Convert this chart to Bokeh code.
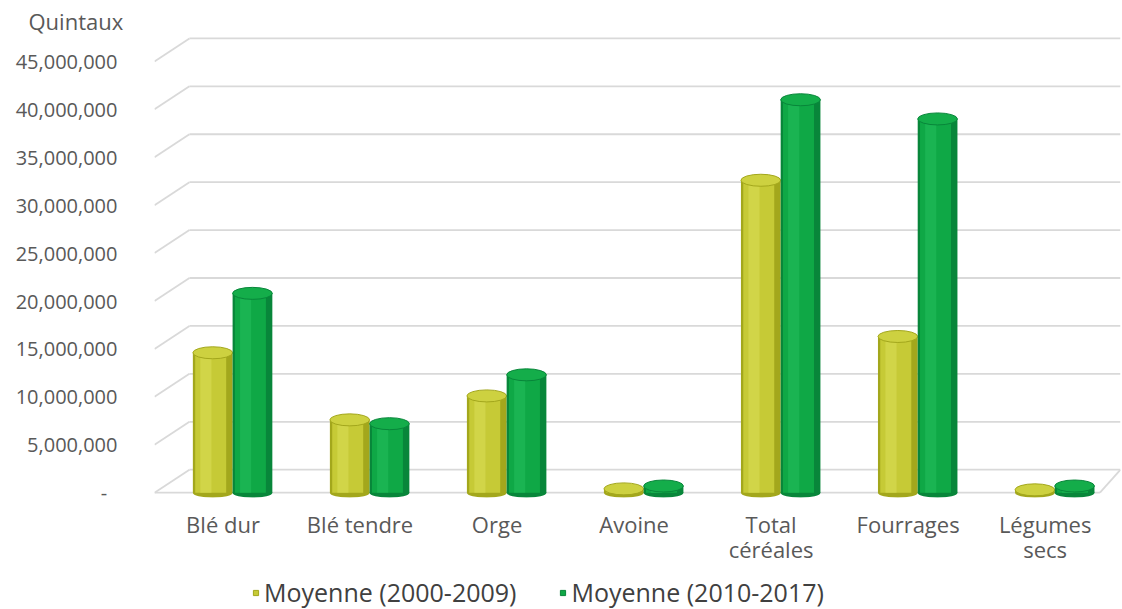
from bokeh.plotting import figure
from bokeh.layouts import column
from bokeh.models import (Range1d, FixedTicker, CustomJSTickFormatter, Legend, LegendItem,
                          Title, ColumnDataSource)
from bokeh.embed import file_html
from bokeh.resources import INLINE

categories = ["Blé dur", "Blé tendre", "Orge", "Avoine", "Total\ncéréales", "Fourrages", "Légumes\nsecs"]
moy_2000_2009 = [14600000, 7600000, 10100000, 400000, 32600000, 16300000, 300000]
moy_2010_2017 = [20800000, 7200000, 12300000, 700000, 41000000, 39000000, 700000]
y_ticks = [0, 5000000, 10000000, 15000000, 20000000, 25000000, 30000000, 35000000, 40000000, 45000000]
series_names = ["Moyenne (2000-2009)", "Moyenne (2010-2017)"]
y_unit = "Quintaux"

FONT = "Open Sans"
GRID = "#d9d9d9"
TXT = "#595959"

n = len(categories)
xc = [i + 0.5 for i in range(n)]
X_END = 7.05
DEPTH_X, DEPTH_Y = 0.255, 2400000  # pseudo-3D wall depth (styling)

p = figure(x_range=Range1d(0, X_END), y_range=Range1d(-500000, 47600000),
           width=1122, height=569, output_backend="svg", toolbar_location=None,
           min_border_left=154, min_border_right=2, min_border_top=36, min_border_bottom=72)
p.outline_line_color = None
p.background_fill_color = "white"
p.xgrid.grid_line_color = None
p.ygrid.grid_line_color = None

p.title = Title(text=y_unit, align="left", offset=-126, text_font=FONT, text_font_size="22px",
                text_color=TXT, text_font_style="normal", standoff=2)

# y axis
p.yaxis.ticker = FixedTicker(ticks=y_ticks)
p.yaxis.formatter = CustomJSTickFormatter(
    code="return tick == 0 ? '-\u00a0\u00a0' : tick.toLocaleString('en-US');")
p.yaxis.axis_line_color = None
p.yaxis.major_tick_line_color = None
p.yaxis.minor_tick_line_color = None
p.yaxis.major_label_text_font = FONT
p.yaxis.major_label_text_font_size = "20px"
p.yaxis.major_label_text_color = TXT
p.yaxis.major_label_standoff = 31

# x axis (categories)
p.xaxis.ticker = FixedTicker(ticks=xc)
p.xaxis.major_label_overrides = {x: c for x, c in zip(xc, categories)}
p.xaxis.axis_line_color = None
p.xaxis.major_tick_line_color = None
p.xaxis.minor_tick_line_color = None
p.xaxis.major_label_text_font = FONT
p.xaxis.major_label_text_font_size = "22px"
p.xaxis.major_label_text_line_height = 0.85
p.xaxis.major_label_text_color = TXT
p.xaxis.major_label_standoff = 5

# pseudo-3D gridlines: diagonal on the side wall, horizontal on the back wall
back = [t + DEPTH_Y for t in y_ticks]
p.segment(x0=[0] * len(y_ticks), y0=y_ticks, x1=[DEPTH_X] * len(y_ticks), y1=back,
          line_color=GRID, line_width=1.8)
p.segment(x0=[DEPTH_X] * len(y_ticks), y0=back, x1=[X_END] * len(y_ticks), y1=back,
          line_color=GRID, line_width=1.8)
# floor front edge and right diagonal
p.segment(x0=[0], y0=[y_ticks[0]], x1=[X_END - 0.15], y1=[y_ticks[0]], line_color=GRID, line_width=1.8)
p.segment(x0=[X_END - 0.15], y0=[y_ticks[0]], x1=[X_END], y1=[back[0]], line_color=GRID, line_width=1.8)

W = 0.29
offsets = [-0.075, 0.215]
styles = [
    ("#a3a71c", "#c6ca36", "#d8dc55", "#cdd140"),
    ("#08863a", "#0fa846", "#22bd5a", "#14ad4a"),
]
src = ColumnDataSource(dict(x=xc, a=moy_2000_2009, b=moy_2010_2017, zero=[0] * n))
for col, dx, (dark, main, light, top) in zip(["a", "b"], offsets, styles):
    xs = [x + dx for x in xc]
    s = ColumnDataSource(dict(x=xs, xm=[x - 0.015 for x in xs], xl=[x - 0.05 for x in xs],
                              v=src.data[col], zero=[0] * n))
    p.ellipse(x="x", y="zero", width=W, height=10, height_units="screen", source=s,
              fill_color=dark, line_color=None)
    p.vbar(x="x", top="v", width=W, source=s, fill_color=dark, line_color=None)
    p.vbar(x="xm", top="v", width=W * 0.78, source=s, fill_color=main, line_color=None)
    p.vbar(x="xl", top="v", width=W * 0.28, source=s, fill_color=light, line_color=None, fill_alpha=0.6)
    p.ellipse(x="x", y="v", width=W, height=12, height_units="screen", source=s,
              fill_color=top, line_color=dark, line_width=1)

# legend in a thin strip below the chart (its frame is aligned with the chart frame)
lg = figure(width=1122, height=40, output_backend="svg", toolbar_location=None,
            x_range=Range1d(0, 1), y_range=Range1d(0, 1),
            min_border_left=0, min_border_right=0, min_border_top=0, min_border_bottom=0)
lg.axis.visible = False
lg.grid.visible = False
lg.outline_line_color = None
items = []
for (dark, main, light, top), name in zip(styles, series_names):
    r = lg.scatter(x=[-1], y=[-1], marker="square", size=12, fill_color=main, line_color=dark)
    items.append(LegendItem(label=name, renderers=[r]))
legend = Legend(items=items, orientation="horizontal", location=(95, 0),
                label_text_font=FONT, label_text_font_size="25px", label_text_color="#404040",
                glyph_width=13, glyph_height=13, spacing=40, label_standoff=2,
                border_line_color=None, background_fill_alpha=0, margin=0, padding=0)
lg.add_layout(legend, "center")

open("out.html", "w").write(file_html(column(p, lg, spacing=0), INLINE))
